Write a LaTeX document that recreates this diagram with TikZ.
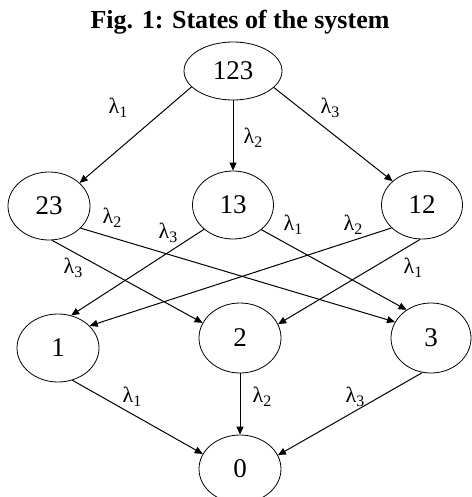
\documentclass[tikz,border=0pt]{standalone}
\usepackage{fontspec}
\setmainfont{Liberation Serif}
\usetikzlibrary{arrows.meta, shapes.geometric}

\newcommand{\lam}[1]{λ\raisebox{-4pt}{\fontsize{16}{16}\selectfont #1}}

\begin{document}
\begin{tikzpicture}[
    x=1pt, y=-1pt,
    state/.style={draw, ellipse, line width=0.8pt, inner sep=0pt,
                  minimum width=82pt, minimum height=68pt,
                  font=\fontsize{27}{30}\selectfont},
    lbl/.style={inner sep=0pt, font=\fontsize{22}{24}\selectfont},
    arr/.style={-{Triangle[length=8pt, width=7pt]}, line width=1pt}
]
\useasboundingbox (0,0) rectangle (471,497);

\node[font=\fontsize{26}{29}\selectfont\bfseries] (title) at (240,22) {Fig. 1: States of the system};

% states
\node[state, minimum width=98pt, minimum height=58pt] (s123) at (233,71) {123};
\node[state] (s23) at (49,206) {23};
\node[state, minimum width=81pt] (s13) at (233,205) {13};
\node[state, minimum width=81pt] (s12) at (422,205) {12};
\node[state] (s1) at (58,348) {1};
\node[state, minimum height=70pt] (s2) at (240,338) {2};
\node[state, minimum width=80pt, minimum height=70pt] (s3) at (431,338) {3};
\node[state] (s0) at (240,469) {0};

% transitions
\draw[arr] (s123.201) -- (s23.37);
\draw[arr] (s123.south) -- (s13.north);
\draw[arr] (s123.338) -- (s12.141);
\draw[arr] (s23.275) -- (s2.158);
\draw[arr] (s23.325) -- (s3.156);
\draw[arr] (s13.220) -- (s1.68);
\draw[arr] (s13.319) -- (s3.131);
\draw[arr] (s12.217) -- (s1.35);
\draw[arr] (s12.267) -- (s2.20);
\draw[arr] (s1.294) -- (s0.158);
\draw[arr] (s2.south) -- (s0.north);
\draw[arr] (s3.256) -- (s0.20);

% rates
\node[lbl] (r1) at (118,108) {\lam{1}};
\node[lbl] (r2) at (253,138) {\lam{2}};
\node[lbl] (r3) at (330,108) {\lam{3}};
\node[lbl] (r4) at (112,218) {\lam{2}};
\node[lbl] (r5) at (168,233) {\lam{3}};
\node[lbl] (r6) at (293,225) {\lam{1}};
\node[lbl] (r7) at (353,225) {\lam{2}};
\node[lbl] (r8) at (73,268) {\lam{3}};
\node[lbl] (r9) at (413,268) {\lam{1}};
\node[lbl] (r10) at (132,397) {\lam{1}};
\node[lbl] (r11) at (262,397) {\lam{2}};
\node[lbl] (r12) at (355,397) {\lam{3}};

\end{tikzpicture}
\end{document}
